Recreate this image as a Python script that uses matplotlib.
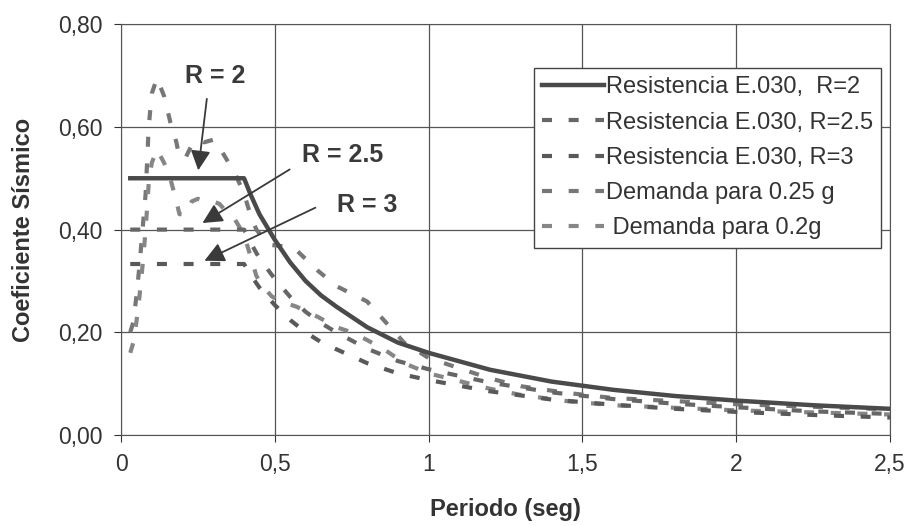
import matplotlib.pyplot as plt
from matplotlib.ticker import FuncFormatter


## 데이터
T_res = [0.03, 0.40, 0.42, 0.45, 0.50, 0.55, 0.60, 0.65, 0.70, 0.80, 0.90, 1.00,
         1.20, 1.40, 1.60, 1.80, 2.00, 2.25, 2.50]
c_r2 = [0.50, 0.50, 0.47, 0.43, 0.38, 0.336, 0.30, 0.272, 0.25, 0.21, 0.18, 0.16,
        0.127, 0.104, 0.088, 0.076, 0.067, 0.058, 0.051]
c_r25 = [0.40, 0.40, 0.376, 0.344, 0.304, 0.269, 0.24, 0.218, 0.20, 0.168, 0.144, 0.128,
         0.102, 0.083, 0.070, 0.061, 0.054, 0.046, 0.041]
c_r3 = [0.333, 0.333, 0.313, 0.287, 0.253, 0.224, 0.20, 0.181, 0.167, 0.14, 0.12, 0.107,
        0.085, 0.069, 0.059, 0.051, 0.045, 0.039, 0.034]

T_dem = [0.03, 0.04, 0.05, 0.06, 0.07, 0.08, 0.09, 0.10, 0.117, 0.14, 0.16, 0.18,
         0.19, 0.21, 0.23, 0.25, 0.27, 0.30, 0.32, 0.35, 0.37, 0.40, 0.42, 0.44,
         0.46, 0.49, 0.52, 0.57, 0.64, 0.70, 0.75, 0.80, 0.86, 0.92, 1.00, 1.10,
         1.20, 1.30, 1.45, 1.60, 1.80, 2.00, 2.25, 2.50]
d_025 = [0.20, 0.22, 0.27, 0.33, 0.40, 0.47, 0.60, 0.665, 0.695, 0.66, 0.61, 0.57,
         0.54, 0.54, 0.565, 0.575, 0.57, 0.575, 0.56, 0.53, 0.51, 0.47, 0.43, 0.40,
         0.385, 0.37, 0.368, 0.36, 0.32, 0.29, 0.275, 0.26, 0.22, 0.18, 0.15, 0.13,
         0.11, 0.095, 0.082, 0.072, 0.066, 0.06, 0.055, 0.05]
d_020 = [0.16, 0.18, 0.22, 0.27, 0.33, 0.40, 0.49, 0.53, 0.556, 0.53, 0.50, 0.455,
         0.43, 0.43, 0.455, 0.46, 0.456, 0.455, 0.45, 0.43, 0.42, 0.39, 0.35, 0.31,
         0.29, 0.27, 0.26, 0.25, 0.23, 0.21, 0.20, 0.185, 0.165, 0.14, 0.12, 0.105,
         0.09, 0.078, 0.066, 0.058, 0.053, 0.048, 0.044, 0.04]

labels = ["Resistencia E.030,  R=2", "Resistencia E.030, R=2.5", "Resistencia E.030, R=3",
          "Demanda para 0.25 g", " Demanda para 0.2g"]


plt.rcParams["font.family"] = ["Liberation Sans", "DejaVu Sans"]

fig = plt.figure(figsize=(9.1, 5.26), dpi=100)
ax = fig.add_axes([0.133, 0.173, 0.845, 0.781])

dash = (2.4, 4.0)
ax.plot(T_res, c_r2, color='#4a4a4a', lw=3.2, label=labels[0], zorder=5)
ax.plot(T_res, c_r25, color='#666666', lw=3, dashes=dash, label=labels[1], zorder=4)
ax.plot(T_res, c_r3, color='#595959', lw=3, dashes=dash, label=labels[2], zorder=4)
ax.plot(T_dem, d_025, color='#777777', lw=3, dashes=dash, label=labels[3], zorder=3)
ax.plot(T_dem, d_020, color='#868686', lw=3, dashes=dash, label=labels[4], zorder=3)


## 화살표 + 글자
arr = dict(arrowstyle='-|>', color='#3a3a3a', lw=1.3, mutation_scale=30)
ax.annotate("", xy=(0.25, 0.51), xytext=(0.28, 0.66), arrowprops=arr, zorder=6)
ax.annotate("", xy=(0.257, 0.41), xytext=(0.556, 0.52), arrowprops=arr, zorder=6)
ax.annotate("", xy=(0.263, 0.337), xytext=(0.64, 0.445), arrowprops=arr, zorder=6)
rfont = dict(fontsize=18, fontweight='bold', color='#3a3a3a', ha='center', va='center')
ax.text(0.305, 0.70, "R = 2", **rfont)
ax.text(0.72, 0.545, "R = 2.5", **rfont)
ax.text(0.80, 0.447, "R = 3", **rfont)


## 축
ax.set_xlim(0, 2.5)
ax.set_ylim(0, 0.8)
ax.set_xticks([0, 0.5, 1, 1.5, 2, 2.5])
ax.set_yticks([0, 0.2, 0.4, 0.6, 0.8])
ax.xaxis.set_major_formatter(FuncFormatter(lambda v, p: ('%g' % v).replace('.', ',')))
ax.yaxis.set_major_formatter(FuncFormatter(lambda v, p: ('%.2f' % v).replace('.', ',')))
ax.tick_params(labelsize=16.5, colors='#333333', length=5, pad=8)
ax.grid(True, color='#555555', lw=0.9)
ax.set_axisbelow(True)
for s in ax.spines.values():
    s.set_color('#555555')

ax.set_xlabel("Periodo (seg)", fontsize=17, fontweight='bold', color='#333333', labelpad=16)
ax.set_ylabel("Coeficiente Sísmico", fontsize=17, fontweight='bold', color='#333333', labelpad=17)

leg = ax.legend(loc='upper left', bbox_to_anchor=(0.537, 0.893), borderaxespad=0,
                fontsize=17, fancybox=False, edgecolor='#444444', framealpha=1,
                handlelength=2.6, handletextpad=0.1, labelspacing=0.56, borderpad=0.35)
leg.get_frame().set_linewidth(1.0)
for t in leg.get_texts():
    t.set_color('#333333')

plt.savefig('out.png', dpi=100)
